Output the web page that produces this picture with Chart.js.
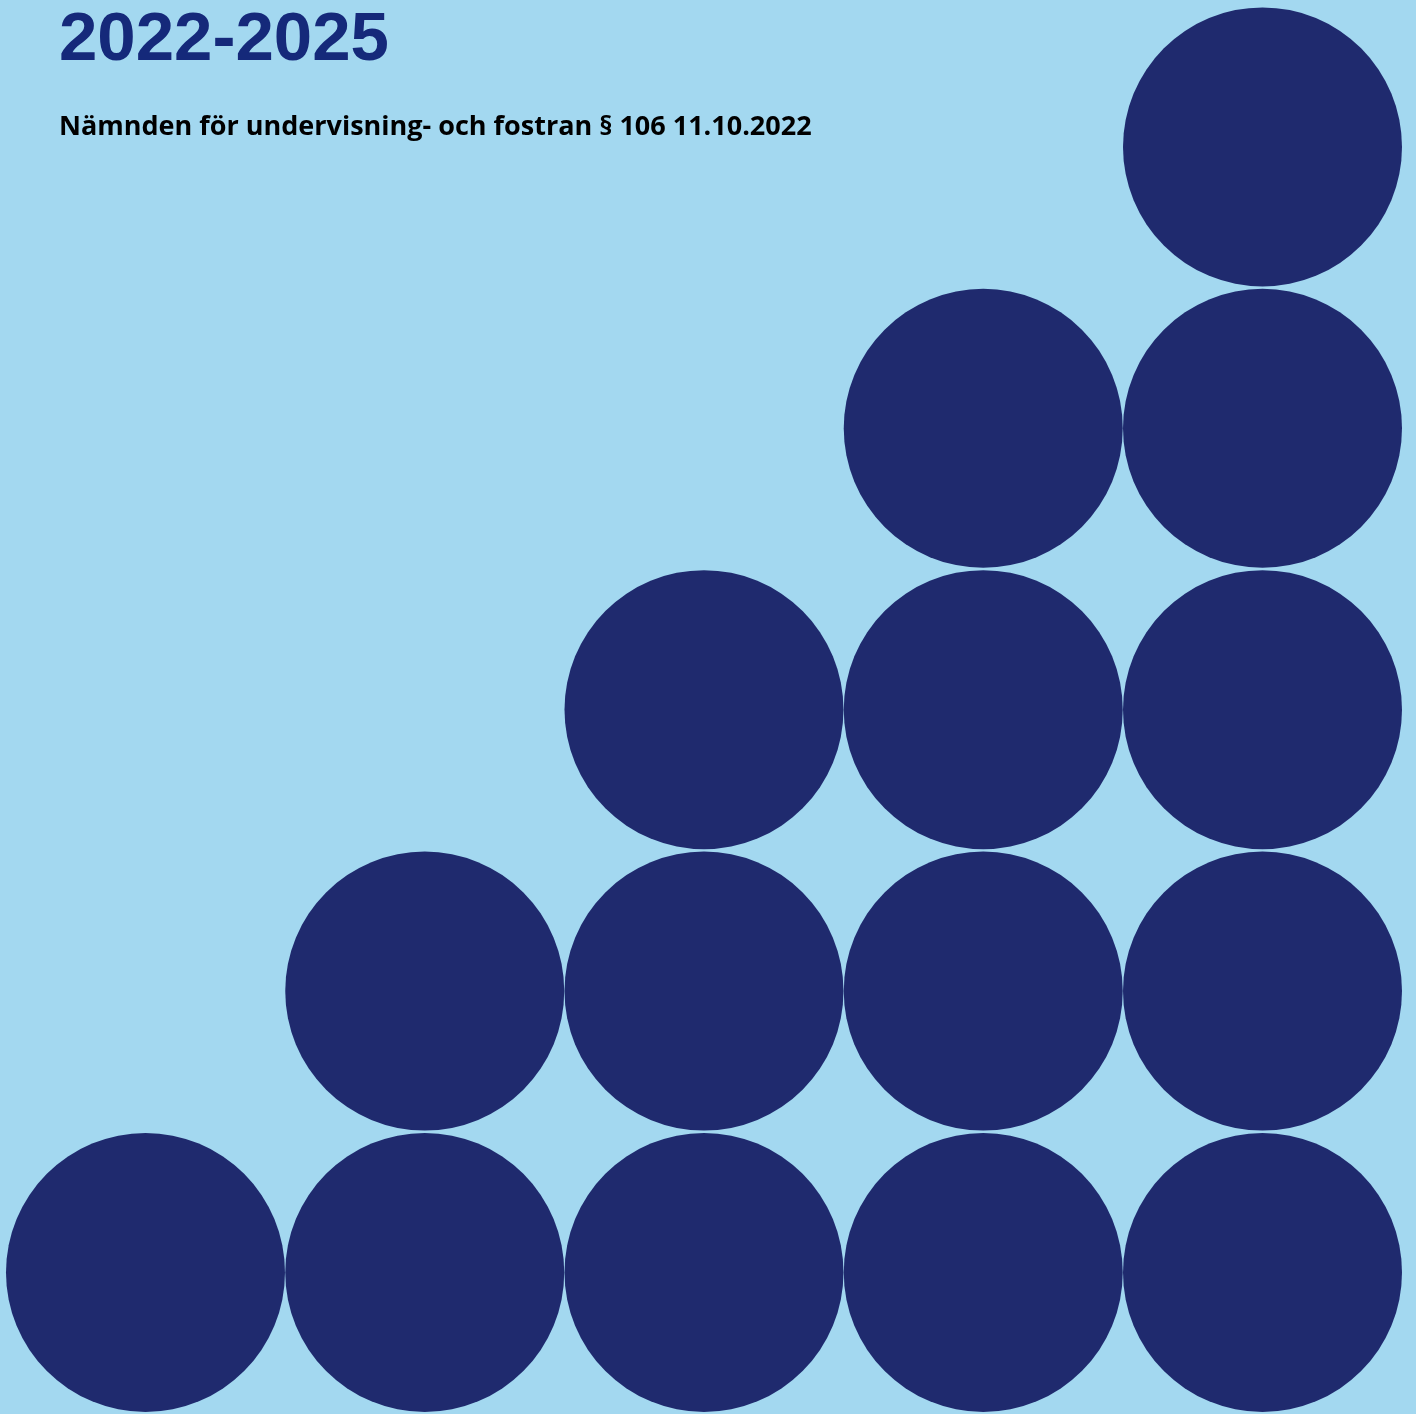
<!DOCTYPE html>
<html>
<head>
<meta charset="utf-8">
<script src="https://cdn.jsdelivr.net/npm/chart.js@4/dist/chart.umd.min.js"></script>
<style>
  html, body { margin: 0; padding: 0; background: #a3d8f0; overflow: hidden; }
  #wrap { position: relative; width: 1416px; height: 1414px; }
  #omslag { position: absolute; left: 0; top: 0; }
  .rubrik {
    position: absolute; left: 59px; top: -3px; margin: 0;
    font: bold 69px "Liberation Sans", Arial, sans-serif;
    color: #15297a;
  }
  .underrubrik {
    position: absolute; left: 59px; top: 106px; margin: 0;
    font: bold 27px "Open Sans", sans-serif;
    color: #000; white-space: nowrap;
  }
</style>
</head>
<body>
<div id="wrap">
  <canvas id="omslag" width="1416" height="1414"></canvas>
  <h1 class="rubrik">2022-2025</h1>
  <p class="underrubrik">Nämnden för undervisning- och fostran § 106 11.10.2022</p>
</div>
<script>
// antal cirklar per kolumn, från vänster till höger
const kolumner = [1, 2, 3, 4, 5];
const antalCirklar = [1, 2, 3, 4, 5];

document.addEventListener('DOMContentLoaded', () => {
  const ctx = document.getElementById('omslag').getContext('2d');

  const punkter = [];
  kolumner.forEach((kol, i) => {
    for (let nivå = 1; nivå <= antalCirklar[i]; nivå++) {
      punkter.push({ x: kol, y: nivå });
    }
  });

  new Chart(ctx, {
    type: 'scatter',
    data: {
      datasets: [{
        label: 'Cirklar',
        data: punkter,
        backgroundColor: '#1f2a6e',
        borderWidth: 0,
        pointRadius: 139.5,
        pointHoverRadius: 139.5,
        clip: false
      }]
    },
    options: {
      responsive: false,
      devicePixelRatio: 1,
      animation: false,
      events: [],
      layout: { padding: 0, autoPadding: false },
      plugins: {
        legend: { display: false },
        tooltip: { enabled: false }
      },
      scales: {
        x: { type: 'linear', min: 0.479, max: 5.5497, display: false },
        y: { type: 'linear', min: 0.497, max: 5.522, display: false }
      }
    }
  });
});
</script>
</body>
</html>
